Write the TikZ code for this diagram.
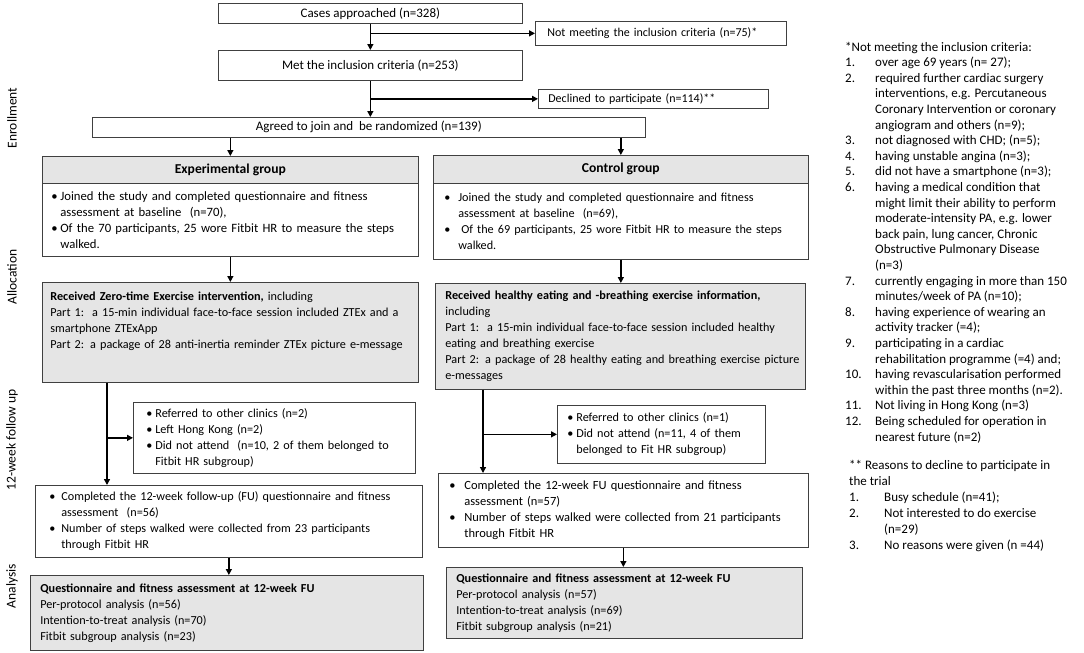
\documentclass[tikz,border=0pt]{standalone}
\usepackage{fontspec}
\setmainfont{Carlito}
\usepackage{tikz}
\usetikzlibrary{arrows.meta}
\setlength{\parindent}{0pt}

\begin{document}
\begin{tikzpicture}[x=1pt, y=-1pt,
    every node/.style={font=\fontsize{12.2}{16}\selectfont},
    flowbox/.style={draw=black!75, line width=0.7pt, anchor=north west, inner ysep=0pt},
    greybox/.style={flowbox, fill=gray!20},
    toptext/.style={font=\fontsize{13}{16}\selectfont},
    sidetext/.style={font=\fontsize{12}{16}\selectfont},
    headtext/.style={font=\fontsize{13.6}{16}\selectfont\bfseries},
    arr/.style={-{Triangle[length=6pt,width=6pt]}, line width=1.3pt},
    stagelabel/.style={rotate=90, inner sep=0pt, font=\fontsize{13.5}{16}\selectfont}]
    \useasboundingbox (0,0) rectangle (1084,653);

    % stages on the left
    \node[stagelabel] (enrol) at (12,118) {Enrollment};
    \node[stagelabel] (alloc) at (12,277) {Allocation};
    \node[stagelabel] (follow) at (12,440) {12-week follow up};
    \node[stagelabel] (analys) at (12,586) {Analysis};

    % enrollment
    \node[flowbox, toptext, minimum width=304, minimum height=20] (cases) at (218,3) {Cases approached (n=328)};
    \node[flowbox, sidetext, align=left, inner xsep=12, text width=227, minimum height=24] (notmeet) at (535,21) {Not meeting the inclusion criteria (n=75)*};
    \node[flowbox, toptext, minimum width=304, minimum height=30] (met) at (218,50) {Met the inclusion criteria (n=253)};
    \node[flowbox, sidetext, align=left, inner xsep=10, text width=210, minimum height=19] (declined) at (538,89) {Declined to participate (n=114)**};
    \node[flowbox, toptext, minimum width=553, minimum height=20] (agreed) at (92,117) {Agreed to join and\ \ be randomized (n=139)};

    % allocation
    \node[greybox, headtext, minimum width=376, minimum height=27] (exphead) at (42,156) {Experimental group};
    \node[flowbox, font=\fontsize{12.7}{16}\selectfont, align=left, inner xsep=9, text width=358, minimum height=73] (expbody) at (42,183) {\begin{tabular}{@{}p{9pt}@{}l@{}}
        \rule{0pt}{14pt}\textbullet & Joined the study and completed questionnaire and fitness\\
        & assessment at baseline\ \ (n=70),\\
        \textbullet & Of the 70 participants, 25 wore Fitbit HR to measure the steps\\
        & walked.
    \end{tabular}};
    \node[greybox, headtext, minimum width=375, minimum height=28] (ctrlhead) at (433,155) {Control group};
    \node[flowbox, align=left, inner xsep=11, text width=353, minimum height=76] (ctrlbody) at (433,183) {\begin{tabular}{@{}p{14pt}@{}l@{}}
        \rule{0pt}{14pt}\textbullet & Joined the study and completed questionnaire and fitness\\
        & assessment at baseline\ \ (n=69),\\
        \textbullet & \hspace{3pt}Of the 69 participants, 25 wore Fitbit HR to measure the steps\\
        & walked.
    \end{tabular}};

    \node[greybox, align=left, inner xsep=8, text width=360, minimum height=100] (ztex) at (42,282) {\begin{tabular}{@{}l@{}}
        \textbf{Received Zero-time Exercise intervention,} including\\
        Part 1:\ \ a 15-min individual face-to-face session included ZTEx and a\\
        smartphone ZTExApp\\
        Part 2: a package of 28 anti-inertia reminder ZTEx picture e-message\\[22pt]
    \end{tabular}};
    \node[greybox, align=left, inner xsep=10, text width=350, minimum height=106] (ctrlint) at (435,283) {\begin{tabular}{@{}l@{}}
        \textbf{Received healthy eating and -breathing exercise information,}\\
        including\\
        Part 1:\ \ a 15-min individual face-to-face session included healthy\\
        eating and breathing exercise\\
        Part 2: a package of 28 healthy eating and breathing exercise picture\\
        e-messages
    \end{tabular}};

    % follow up
    \node[flowbox, align=left, inner xsep=13, text width=256, minimum height=71] (ldrop) at (133,402) {\begin{tabular}{@{}p{9pt}@{}l@{}}
        \textbullet & Referred to other clinics (n=2)\\
        \textbullet & Left Hong Kong (n=2)\\
        \textbullet & Did not attend\ \ (n=10, 2 of them belonged to\\
        & Fitbit HR subgroup)
    \end{tabular}};
    \node[flowbox, align=left, inner xsep=10, text width=188, minimum height=58] (rdrop) at (557,405) {\begin{tabular}{@{}p{9pt}@{}l@{}}
        \textbullet & Referred to other clinics (n=1)\\
        \textbullet & Did not attend (n=11, 4 of them\\
        & belonged to Fit HR subgroup)
    \end{tabular}};
    \node[flowbox, align=left, inner xsep=14, text width=359, minimum height=72] (lfu) at (35,485) {\begin{tabular}{@{}p{12pt}@{}l@{}}
        \textbullet & Completed the 12-week follow-up (FU) questionnaire and fitness\\
        & assessment\ \ (n=56)\\
        \textbullet & Number of steps walked were collected from 23 participants\\
        & through Fitbit HR
    \end{tabular}};
    \node[flowbox, font=\fontsize{12.5}{16}\selectfont, align=left, inner xsep=11, text width=348, minimum height=74] (rfu) at (438,473) {\begin{tabular}{@{}p{15pt}@{}l@{}}
        \textbullet & Completed the 12-week FU questionnaire and fitness\\
        & assessment (n=57)\\
        \textbullet & Number of steps walked were collected from 21 participants\\
        & through Fitbit HR
    \end{tabular}};

    % analysis
    \node[greybox, align=left, inner xsep=10, text width=373, minimum height=75] (lana) at (30,575) {\begin{tabular}{@{}l@{}}
        \textbf{Questionnaire and fitness assessment at 12-week FU}\\
        Per-protocol analysis (n=56)\\
        Intention-to-treat analysis (n=70)\\
        Fitbit subgroup analysis (n=23)
    \end{tabular}};
    \node[greybox, align=left, inner xsep=10, text width=336, minimum height=71] (rana) at (446,567) {\begin{tabular}{@{}l@{}}
        \textbf{Questionnaire and fitness assessment at 12-week FU}\\
        Per-protocol analysis (n=57)\\
        Intention-to-treat analysis (n=69)\\
        Fitbit subgroup analysis (n=21)
    \end{tabular}};

    % notes on the right
    \node[anchor=north west, inner sep=0pt, font=\fontsize{13}{15.6}\selectfont] (critnote) at (845,40) {\begin{tabular}{@{}p{30pt}@{}l@{}}
        \multicolumn{2}{@{}l@{}}{*Not meeting the inclusion criteria:}\\
        1. & over age 69 years (n= 27);\\
        2. & required further cardiac surgery\\
        & interventions, e.g. Percutaneous\\
        & Coronary Intervention or coronary\\
        & angiogram and others (n=9);\\
        3. & not diagnosed with CHD; (n=5);\\
        4. & having unstable angina (n=3);\\
        5. & did not have a smartphone (n=3);\\
        6. & having a medical condition that\\
        & might limit their ability to perform\\
        & moderate-intensity PA, e.g. lower\\
        & back pain, lung cancer, Chronic\\
        & Obstructive Pulmonary Disease\\
        & (n=3)\\
        7. & currently engaging in more than 150\\
        & minutes/week of PA (n=10);\\
        8. & having experience of wearing an\\
        & activity tracker (=4);\\
        9. & participating in a cardiac\\
        & rehabilitation programme (=4) and;\\
        10. & having revascularisation performed\\
        & within the past three months (n=2).\\
        11. & Not living in Hong Kong (n=3)\\
        12. & Being scheduled for operation in\\
        & nearest future (n=2)
    \end{tabular}};
    \node[anchor=north west, inner sep=0pt, font=\fontsize{13}{16}\selectfont] (declnote) at (849,458) {\begin{tabular}{@{}p{35pt}@{}l@{}}
        \multicolumn{2}{@{}l@{}}{** Reasons to decline to participate in}\\
        \multicolumn{2}{@{}l@{}}{the trial}\\
        1. & Busy schedule (n=41);\\
        2. & Not interested to do exercise\\
        & (n=29)\\
        3. & No reasons were given (n =44)
    \end{tabular}};

    % connectors
    \coordinate (ltrunk) at (107,0);
    \coordinate (rtrunk) at (483,0);
    \draw[arr] (cases.south) -- (cases.south |- met.north);
    \draw[arr] (cases.south |- notmeet.west) -- (notmeet.west);
    \draw[arr] (met.south) -- (met.south |- agreed.north);
    \draw[arr] (met.south |- declined.west) -- (declined.west);
    \draw[arr] (agreed.south -| exphead.north) -- (exphead.north);
    \draw[arr] (agreed.south -| ctrlhead.north) -- (ctrlhead.north);
    \draw[arr] (expbody.south) -- (expbody.south |- ztex.north);
    \draw[arr] (ctrlbody.south) -- (ctrlbody.south |- ctrlint.north);
    \draw[arr] (ztex.south -| ltrunk) -- (lfu.north -| ltrunk);
    \draw[arr] (ldrop.west -| ltrunk) -- (ldrop.west);
    \draw[arr] (ctrlint.south -| rtrunk) -- (rfu.north -| rtrunk);
    \draw[arr] (rdrop.west -| rtrunk) -- (rdrop.west);
    \draw[arr] (lfu.south) -- (lfu.south |- lana.north);
    \draw[arr] (rfu.south) -- (rfu.south |- rana.north);
\end{tikzpicture}
\end{document}
